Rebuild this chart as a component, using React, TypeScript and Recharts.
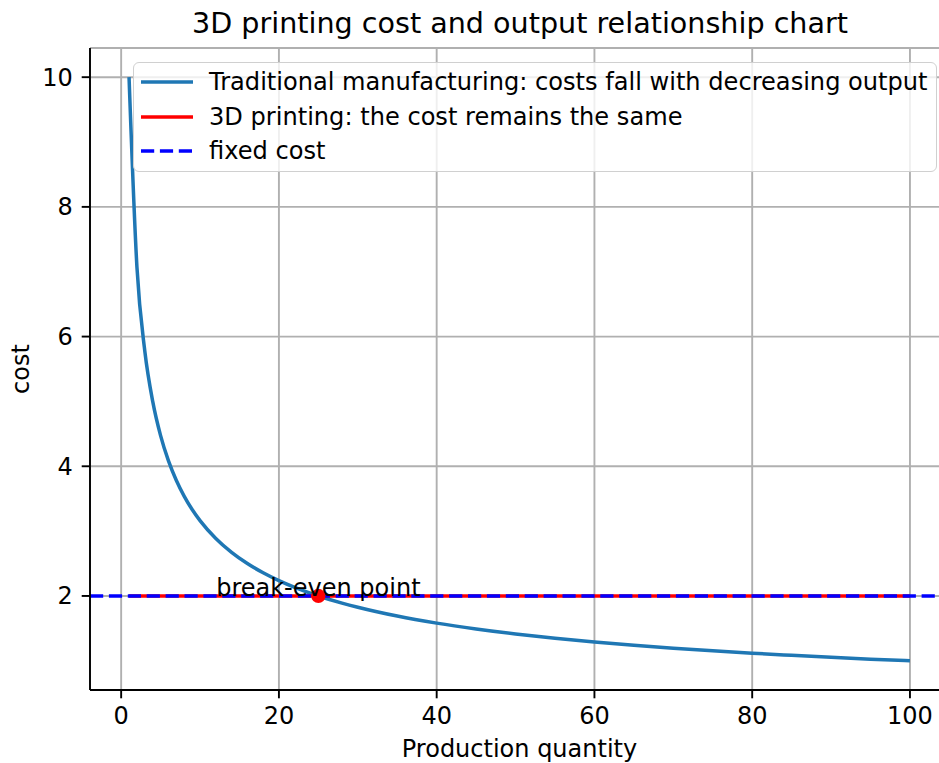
import React from "react"
import { LineChart, Line, XAxis, YAxis, CartesianGrid, ReferenceLine, ReferenceDot, Legend } from "recharts"

const quantity = [1, 2, 3, 4, 5, 6, 7, 8, 9, 10, 12, 14, 16, 18, 20, 22, 25, 28, 30, 35, 40, 45, 50, 55, 60, 65, 70, 75, 80, 85, 90, 95, 100]
const traditionalCost = [
  10, 7.071, 5.774, 5.0, 4.472, 4.082, 3.78, 3.536, 3.333, 3.162, 2.887, 2.673, 2.5, 2.357, 2.236, 2.132, 2.0, 1.89,
  1.826, 1.69, 1.581, 1.491, 1.414, 1.348, 1.291, 1.24, 1.195, 1.155, 1.118, 1.085, 1.054, 1.026, 1.0,
]

const printingQuantity = [1, 100]
const printingCost = [2, 2]

const fixedCost = 2
const breakEven = { quantity: 25, cost: 2 }

const xTicks = [0, 20, 40, 60, 80, 100]
const yTicks = [2, 4, 6, 8, 10]

const title = "3D printing cost and output relationship chart"

const legendItems = [
  { label: "Traditional manufacturing: costs fall with decreasing output", color: "#1f77b4", dash: "" },
  { label: "3D printing: the cost remains the same", color: "#ff0000", dash: "" },
  { label: "fixed cost", color: "#0000ff", dash: "13.2 5.7" },
]

const traditionalRows = quantity.map((q, i) => ({ quantity: q, cost: traditionalCost[i] }))
const printingRows = printingQuantity.map((q, i) => ({ quantity: q, cost: printingCost[i] }))

const FONT = "DejaVu Sans"
const FS = 24
const tickStyle = { fill: "#000", fontSize: FS, fontFamily: FONT }

function LegendBox() {
  return (
    <div
      style={{
        boxSizing: "border-box",
        width: 804,
        height: 110,
        paddingTop: 2,
        paddingLeft: 7,
        background: "rgba(255,255,255,0.8)",
        border: "1.5px solid #d0d0d0",
        borderRadius: 6,
        fontFamily: FONT,
        fontSize: 24.1,
        color: "#000",
      }}
    >
      {legendItems.map((item) => (
        <div key={item.label} style={{ height: 34.5, display: "flex", alignItems: "center", whiteSpace: "nowrap" }}>
          <svg width={52} height={6} style={{ marginRight: 16 }}>
            <line x1={0} y1={3} x2={52} y2={3} stroke={item.color} strokeWidth={3.5} strokeDasharray={item.dash || undefined} />
          </svg>
          <span>{item.label}</span>
        </div>
      ))}
    </div>
  )
}

export default function App() {
  return (
    <div style={{ position: "absolute", left: 0, top: 0, width: 939, height: 763, overflow: "hidden", background: "#fff" }}>
      <svg width={939} height={45} style={{ position: "absolute", left: 0, top: 0 }}>
        <text x={520} y={33} textAnchor="middle" fontFamily={FONT} fontSize={28.6} fill="#000">
          {title}
        </text>
      </svg>
      <LineChart width={960} height={763} margin={{ top: 48, right: 11, left: 0, bottom: 0 }}>
        <CartesianGrid stroke="#b0b0b0" strokeWidth={1.9} />
        <XAxis
          dataKey="quantity"
          type="number"
          domain={[-3.95, 104.95]}
          ticks={xTicks}
          allowDataOverflow
          height={73}
          tick={tickStyle}
          tickSize={8.3}
          tickMargin={9}
          axisLine={{ stroke: "#000", strokeWidth: 1.9 }}
          tickLine={{ stroke: "#000", strokeWidth: 1.9 }}
          label={{ value: "Production quantity", position: "insideBottom", offset: 6, fill: "#000", fontSize: FS, fontFamily: FONT }}
        />
        <XAxis
          xAxisId="top"
          orientation="top"
          type="number"
          domain={[-3.95, 104.95]}
          height={0}
          tick={false}
          tickLine={false}
          axisLine={{ stroke: "#000", strokeWidth: 1.9 }}
        />
        <YAxis
          type="number"
          domain={[0.55, 10.45]}
          ticks={yTicks}
          allowDataOverflow
          width={90}
          tick={tickStyle}
          tickSize={8.3}
          tickMargin={9}
          axisLine={{ stroke: "#000", strokeWidth: 1.9 }}
          tickLine={{ stroke: "#000", strokeWidth: 1.9 }}
          label={{ value: "cost", angle: -90, position: "center", dx: -25, fill: "#000", fontSize: FS, fontFamily: FONT }}
        />
        <Legend
          layout="vertical"
          align="center"
          verticalAlign="middle"
          content={() => <LegendBox />}
          wrapperStyle={{ position: "absolute", left: 133, top: 62, width: 804 }}
        />
        <Line
          data={traditionalRows}
          dataKey="cost"
          type="monotone"
          stroke="#1f77b4"
          strokeWidth={3.5}
          dot={false}
          isAnimationActive={false}
        />
        <Line
          data={printingRows}
          dataKey="cost"
          type="linear"
          stroke="#ff0000"
          strokeWidth={3.5}
          dot={false}
          isAnimationActive={false}
        />
        <ReferenceLine y={fixedCost} stroke="#0000ff" strokeWidth={3.5} strokeDasharray="13.2 5.7" />
        <ReferenceDot
          x={breakEven.quantity}
          y={breakEven.cost}
          r={7.1}
          fill="#ff0000"
          stroke="none"
          label={{ value: "break-even point", position: "top", offset: -7.1, fill: "#000", fontSize: FS, fontFamily: FONT }}
        />
      </LineChart>
    </div>
  )
}
